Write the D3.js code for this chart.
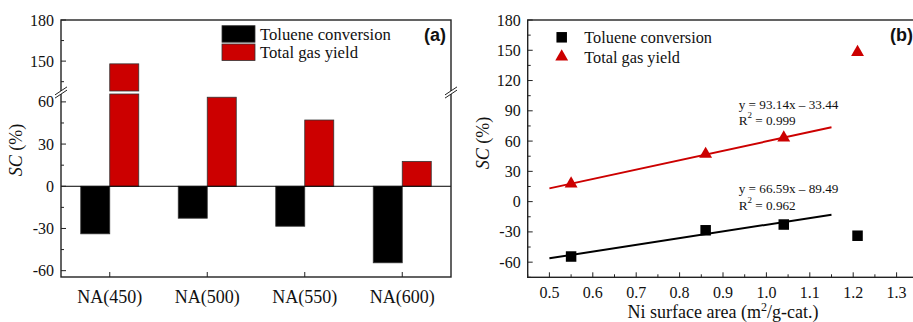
<!DOCTYPE html>
<html>
<head>
<meta charset="utf-8">
<script src="https://cdn.jsdelivr.net/npm/d3@7"></script>
<style>
  html, body { margin: 0; padding: 0; background: #fff; }
  svg { display: block; font-family: "Liberation Serif", "Times New Roman", Times, serif; }
  text { fill: #111; }
  .bold-sans { font-family: "Liberation Sans", Arial, Helvetica, sans-serif; font-weight: bold; }
</style>
</head>
<body>
<svg id="chart" width="913" height="322"></svg>
<script>
// Catalysts and their responses (SC, %)
const categories = ["NA(450)", "NA(500)", "NA(550)", "NA(600)"];
const tolueneConversion = [-33.8, -22.7, -28.4, -54.4];
const totalGasYield = [148, 63.3, 47.1, 17.7];

// Ni surface area (m2/g-cat.) of the same catalysts
const niSurfaceArea = [1.21, 1.04, 0.86, 0.55];

// Linear fits over the three lower-area catalysts
const fitGas = { slope: 93.14, intercept: -33.44, r2: "0.999", label: "y = 93.14x \u2013 33.44" };
const fitToluene = { slope: 66.59, intercept: -89.49, r2: "0.962", label: "y = 66.59x \u2013 89.49" };
const fitRange = [0.5, 1.15];

// Tick values
const leftLowTicks = [-60, -30, 0, 30, 60];
const leftLowMinor = [-45, -15, 15, 45];
const leftHighTicks = [150, 180];
const leftHighMinor = [135, 165];
const rightYTicks = [-60, -30, 0, 30, 60, 90, 120, 150, 180];
const rightXTicks = [0.5, 0.6, 0.7, 0.8, 0.9, 1.0, 1.1, 1.2, 1.3];

const RED = "#cc0000";
const AXIS = "#222";

const svg = d3.select("#chart");

// ---------- Panel (a): bar chart with broken y axis ----------
const A = { x0: 61, x1: 451, top: 20, bottom: 277 };
const x = d3.scaleBand().domain(categories).range([A.x0, A.x1]);
const yLow = d3.scaleLinear().domain([-64.5, 65.6]).range([A.bottom, 94]);
const yHigh = d3.scaleLinear().domain([128.2, 180]).range([91, A.top]);
const barW = 29;

const gA = svg.append("g");

// bars: toluene conversion (black)
gA.selectAll("rect.tol").data(categories).join("rect")
  .attr("class", "tol")
  .attr("x", d => x(d) + x.bandwidth() / 2 - barW)
  .attr("width", barW)
  .attr("y", (d, i) => Math.min(yLow(0), yLow(tolueneConversion[i])))
  .attr("height", (d, i) => Math.abs(yLow(tolueneConversion[i]) - yLow(0)))
  .attr("fill", "#000").attr("stroke", "#333").attr("stroke-width", 0.8);

// bars: total gas yield (red), split across the axis break
categories.forEach((c, i) => {
  const v = totalGasYield[i];
  const bx = x(c) + x.bandwidth() / 2;
  const lowTop = yLow(Math.min(v, yLow.domain()[1]));
  gA.append("rect")
    .attr("x", bx).attr("width", barW)
    .attr("y", lowTop).attr("height", yLow(0) - lowTop)
    .attr("fill", RED).attr("stroke", "#333").attr("stroke-width", 0.8);
  if (v > yHigh.domain()[0]) {
    gA.append("rect")
      .attr("x", bx).attr("width", barW)
      .attr("y", yHigh(v)).attr("height", yHigh(yHigh.domain()[0]) - yHigh(v))
      .attr("fill", RED).attr("stroke", "#333").attr("stroke-width", 0.8);
  }
});

// zero line
gA.append("line")
  .attr("x1", A.x0).attr("x2", A.x1)
  .attr("y1", yLow(0)).attr("y2", yLow(0))
  .attr("stroke", "#000").attr("stroke-width", 1);

// frame
gA.append("rect")
  .attr("x", A.x0).attr("y", A.top)
  .attr("width", A.x1 - A.x0).attr("height", A.bottom - A.top)
  .attr("fill", "none").attr("stroke", AXIS).attr("stroke-width", 1.4);

// y ticks, inward
function yTicksA(scale, major, minor) {
  major.forEach(v => {
    gA.append("line").attr("x1", A.x0).attr("x2", A.x0 + 5)
      .attr("y1", scale(v)).attr("y2", scale(v)).attr("stroke", AXIS).attr("stroke-width", 1);
    gA.append("text").attr("x", A.x0 - 7).attr("y", scale(v))
      .attr("text-anchor", "end").attr("dominant-baseline", "central")
      .attr("font-size", 16).text(v);
  });
  minor.forEach(v => {
    gA.append("line").attr("x1", A.x0).attr("x2", A.x0 + 3)
      .attr("y1", scale(v)).attr("y2", scale(v)).attr("stroke", AXIS).attr("stroke-width", 1);
  });
}
yTicksA(yLow, leftLowTicks, leftLowMinor);
yTicksA(yHigh, leftHighTicks, leftHighMinor);

// x ticks, inward, and category labels
categories.forEach(c => {
  const cx = x(c) + x.bandwidth() / 2;
  gA.append("line").attr("x1", cx).attr("x2", cx)
    .attr("y1", A.bottom).attr("y2", A.bottom - 5).attr("stroke", AXIS).attr("stroke-width", 1);
  gA.append("text").attr("x", cx).attr("y", 297)
    .attr("text-anchor", "middle").attr("dominant-baseline", "central")
    .attr("font-size", 18).text(c);
});

// axis break marks on both sides
const breakY = (yHigh.range()[0] + yLow.range()[1]) / 2;
[A.x0, A.x1].forEach(bx => {
  gA.append("rect").attr("x", bx - 2).attr("y", breakY - 1.5).attr("width", 4).attr("height", 3).attr("fill", "#fff");
  [-1.6, 1.6].forEach(off => {
    gA.append("line")
      .attr("x1", bx - 6).attr("y1", breakY + off + 4)
      .attr("x2", bx + 6).attr("y2", breakY + off - 4)
      .attr("stroke", AXIS).attr("stroke-width", 1);
  });
});

// y title
const tA = gA.append("text")
  .attr("transform", "translate(22,150) rotate(-90)")
  .attr("text-anchor", "middle").attr("font-size", 18);
tA.append("tspan").attr("font-style", "italic").text("SC");
tA.append("tspan").text(" (%)");

// legend
const legA = [{ label: "Toluene conversion", color: "#000", y: 25.7 }, { label: "Total gas yield", color: RED, y: 44 }];
legA.forEach(l => {
  gA.append("rect").attr("x", 222).attr("y", l.y).attr("width", 33).attr("height", 16.5)
    .attr("fill", l.color).attr("stroke", "#333").attr("stroke-width", 0.8);
  gA.append("text").attr("x", 260).attr("y", l.y + 8.5)
    .attr("dominant-baseline", "central").attr("font-size", 16.7).text(l.label);
});

gA.append("text").attr("class", "bold-sans").attr("x", 446).attr("y", 35)
  .attr("text-anchor", "end").attr("dominant-baseline", "central")
  .attr("font-size", 18).text("(a)");

// ---------- Panel (b): SC vs Ni surface area ----------
const B = { x0: 527.7, x1: 918.3, top: 20, bottom: 277.3 };
const xR = d3.scaleLinear().domain([0.45, 1.35]).range([B.x0, B.x1]);
const yR = d3.scaleLinear().domain([-75, 180]).range([B.bottom, B.top]);

const gB = svg.append("g");

gB.append("rect")
  .attr("x", B.x0).attr("y", B.top)
  .attr("width", B.x1 - B.x0).attr("height", B.bottom - B.top)
  .attr("fill", "none").attr("stroke", AXIS).attr("stroke-width", 1.4);

// y ticks
rightYTicks.forEach(v => {
  gB.append("line").attr("x1", B.x0).attr("x2", B.x0 + 5)
    .attr("y1", yR(v)).attr("y2", yR(v)).attr("stroke", AXIS).attr("stroke-width", 1);
  gB.append("text").attr("x", B.x0 - 7).attr("y", yR(v))
    .attr("text-anchor", "end").attr("dominant-baseline", "central")
    .attr("font-size", 16).text(v);
});
d3.range(-75, 180, 30).forEach(v => {
  gB.append("line").attr("x1", B.x0).attr("x2", B.x0 + 3)
    .attr("y1", yR(v)).attr("y2", yR(v)).attr("stroke", AXIS).attr("stroke-width", 1);
});

// x ticks
rightXTicks.forEach(v => {
  gB.append("line").attr("x1", xR(v)).attr("x2", xR(v))
    .attr("y1", B.bottom).attr("y2", B.bottom - 5).attr("stroke", AXIS).attr("stroke-width", 1);
  gB.append("text").attr("x", xR(v)).attr("y", 292)
    .attr("text-anchor", "middle").attr("dominant-baseline", "central")
    .attr("font-size", 16).text(d3.format(".1f")(v));
});
rightXTicks.map(v => v + 0.05).filter(v => v < 1.35).concat([0.45]).forEach(v => {
  gB.append("line").attr("x1", xR(v)).attr("x2", xR(v))
    .attr("y1", B.bottom).attr("y2", B.bottom - 3).attr("stroke", AXIS).attr("stroke-width", 1);
});

// fitted lines
[[fitGas, RED], [fitToluene, "#000"]].forEach(([f, col]) => {
  gB.append("line")
    .attr("x1", xR(fitRange[0])).attr("y1", yR(f.slope * fitRange[0] + f.intercept))
    .attr("x2", xR(fitRange[1])).attr("y2", yR(f.slope * fitRange[1] + f.intercept))
    .attr("stroke", col).attr("stroke-width", 2);
});

// markers
const sq = 10.5;
gB.selectAll("rect.pt").data(niSurfaceArea).join("rect")
  .attr("class", "pt")
  .attr("x", d => xR(d) - sq / 2)
  .attr("y", (d, i) => yR(tolueneConversion[i]) - sq / 2)
  .attr("width", sq).attr("height", sq).attr("fill", "#000");

const tri = d3.symbol().type(d3.symbolTriangle).size(72);
gB.selectAll("path.pt").data(niSurfaceArea).join("path")
  .attr("class", "pt")
  .attr("transform", (d, i) => `translate(${xR(d)},${yR(totalGasYield[i])})`)
  .attr("d", tri).attr("fill", RED);

// fit equations
[[fitGas, 104.3], [fitToluene, 188.7]].forEach(([f, ty]) => {
  gB.append("text").attr("x", 738.7).attr("y", ty)
    .attr("dominant-baseline", "central").attr("font-size", 13.2)
    .attr("fill", "#333").text(f.label);
  const r = gB.append("text").attr("x", 738.7).attr("y", ty + 16)
    .attr("dominant-baseline", "central").attr("font-size", 13.2).attr("fill", "#333");
  r.append("tspan").text("R");
  r.append("tspan").attr("font-size", 9).attr("dy", -5).text("2");
  r.append("tspan").attr("dy", 5).text(" = " + f.r2);
});

// legend
gB.append("rect").attr("x", 561.7 - 5.25).attr("y", 37.3 - 5.25).attr("width", sq).attr("height", sq).attr("fill", "#000");
gB.append("path").attr("transform", "translate(561.7,56.7)").attr("d", tri).attr("fill", RED);
gB.append("text").attr("x", 584.3).attr("y", 37.3).attr("dominant-baseline", "central").attr("font-size", 16.3).text("Toluene conversion");
gB.append("text").attr("x", 584.3).attr("y", 57).attr("dominant-baseline", "central").attr("font-size", 16.3).text("Total gas yield");

gB.append("text").attr("class", "bold-sans").attr("x", 890).attr("y", 35)
  .attr("dominant-baseline", "central")
  .attr("font-size", 18).text("(b)");

// axis titles
const tB = gB.append("text")
  .attr("transform", "translate(489,143) rotate(-90)")
  .attr("text-anchor", "middle").attr("font-size", 18);
tB.append("tspan").attr("font-style", "italic").text("SC");
tB.append("tspan").text(" (%)");

const xt = gB.append("text").attr("x", 723).attr("y", 318)
  .attr("text-anchor", "middle").attr("font-size", 18);
xt.append("tspan").text("Ni surface area (m");
xt.append("tspan").attr("font-size", 12).attr("dy", -7).text("2");
xt.append("tspan").attr("dy", 7).text("/g-cat.)");
</script>
</body>
</html>
